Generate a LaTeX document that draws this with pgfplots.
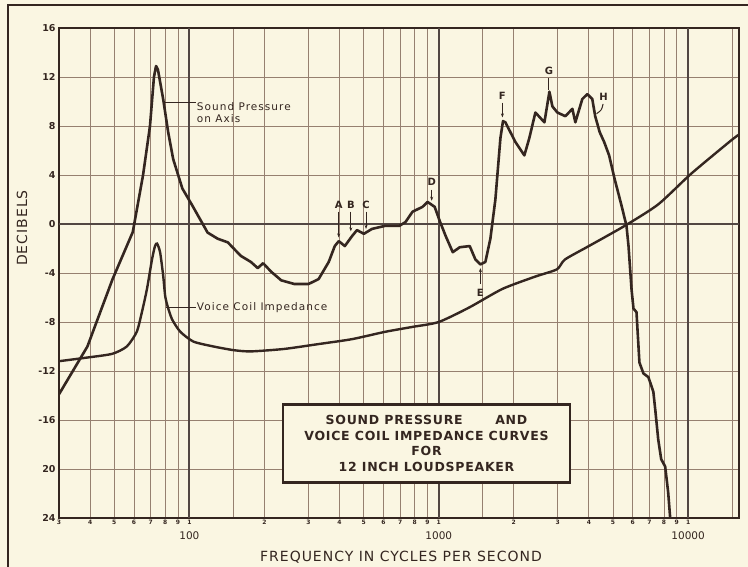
\documentclass[border=0pt]{standalone}
\usepackage{fontspec}
\setmainfont{DejaVu Sans}
\newfontfamily\letterfont[LetterSpace=10]{DejaVu Sans}
\newfontfamily\titlefont[LetterSpace=6]{DejaVu Sans}
\newfontfamily\labfont[LetterSpace=7]{DejaVu Sans}
\usepackage{pgfplots}
\pgfplotsset{compat=1.18}
\usetikzlibrary{arrows.meta}
\definecolor{bg}{RGB}{250,246,226}
\definecolor{ink}{RGB}{52,38,32}
\definecolor{gridc}{RGB}{150,128,112}

\pgfplotstableread{
f db
30 -13.9
39 -10.0
49.2 -4.5
59.3 -0.65
65.2 4.0
69.5 8.0
72.1 12.0
73.5 12.9
74.8 12.6
78.5 10.2
82.2 7.5
86.1 5.3
93.7 2.9
102.8 1.5
118.3 -0.7
129.8 -1.2
142.6 -1.5
160.7 -2.6
176.5 -3.1
188 -3.6
197.6 -3.2
212.9 -3.9
233.6 -4.6
263.6 -4.9
300.4 -4.9
329.7 -4.5
362.1 -3.1
382.9 -1.8
397.3 -1.4
420.1 -1.8
448.6 -1.0
469.9 -0.5
501 -0.8
540 -0.4
610 -0.15
695 -0.15
735 0.15
785 1.0
861 1.4
902 1.8
963 1.4
1009 0.25
1067 -1.0
1138 -2.3
1214 -1.9
1331 -1.8
1403 -2.9
1469 -3.3
1538 -3.1
1611 -1.2
1687 2.0
1767 7.0
1810 8.4
1850 8.3
2029 6.7
2204 5.6
2307 7.0
2441 9.1
2653 8.3
2778 10.8
2856 9.6
2990 9.1
3219 8.8
3435 9.4
3530 8.3
3765 10.2
3942 10.6
4128 10.2
4240 8.8
4420 7.5
4605 6.7
4822 5.6
5070 3.7
5408 1.5
5662 -0.16
5768 -1.8
5929 -5.3
6039 -6.9
6209 -7.2
6379 -11.3
6620 -12.2
6930 -12.5
7256 -13.7
7396 -15.3
7590 -17.6
7800 -19.2
8091 -19.8
8318 -21.9
8474 -24
}\sptable

\pgfplotstableread{
f db
30 -11.2
39 -10.9
49 -10.6
56.1 -10.0
61.5 -8.8
64.5 -7.2
67.6 -5.3
70.8 -2.9
72.8 -1.8
74.2 -1.6
76.3 -2.3
78.5 -4.2
80 -5.9
82 -6.8
85.3 -7.8
92 -8.8
103.8 -9.6
125 -10.0
150.6 -10.3
176.5 -10.4
240 -10.2
330 -9.8
449 -9.4
610 -8.8
785 -8.4
1000 -8.0
1329 -6.8
1800 -5.3
2432 -4.3
2978 -3.7
3206 -2.9
4000 -1.8
5560 -0.16
7586 1.6
10280 4.1
14830 6.8
16000 7.3
}\vctable

\begin{document}
\begin{tikzpicture}[x=1pt,y=1pt]
\fill[bg] (0,0) rectangle (748,567);
\path[use as bounding box] (0,0) rectangle (748,567);
\draw[ink, line width=2.5pt] (8,0) -- (8,562) -- (748,562);
\node[rotate=90, font=\fontsize{14}{14}\selectfont\labfont, text=ink] at (22,339) {DECIBELS};
\node[font=\fontsize{14}{14}\selectfont\labfont, text=ink] at (401,10) {FREQUENCY IN CYCLES PER SECOND};
\begin{axis}[
  at={(59pt,49pt)}, anchor=south west,
  scale only axis, width=680pt, height=490pt,
  xmode=log, xmin=30, xmax=16000, ymin=-24, ymax=16,
  xtick={30,40,50,60,70,80,90,100,200,300,400,500,600,700,800,900,1000,2000,3000,4000,5000,6000,7000,8000,9000,10000},
  xticklabels={3,4,5,6,7,8,9,1,2,3,4,5,6,7,8,9,1,2,3,4,5,6,7,8,9,1},
  minor xtick={150,1500,15000},
  ytick={-24,-20,...,16},
  yticklabels={24,20,-16,-12,-8,-4,0,4,8,12,16},
  /pgf/number format/assume math mode=true,
  grid=both,
  major grid style={gridc, line width=0.9pt},
  minor grid style={gridc, line width=0.9pt},
  major tick length=0pt, minor tick length=0pt,
  axis line style={ink, line width=2.8pt},
  axis background/.style={fill=bg},
  xticklabel style={font=\fontsize{6}{6}\selectfont\bfseries, text=ink, yshift=1pt},
  yticklabel style={font=\fontsize{9.5}{9.5}\selectfont\bfseries, text=ink},
  extra x ticks={100,1000,10000},
  extra x tick labels={100,1000,10000},
  extra x tick style={major grid style={ink!85, line width=1.8pt},
     xticklabel style={font=\fontsize{10.5}{10.5}\selectfont, text=ink, yshift=-11pt}},
  extra y ticks={0},
  extra y tick labels={},
  extra y tick style={major grid style={ink!85, line width=1.8pt}},
  clip mode=individual,
]
\addplot[ink, line width=2.6pt, line join=round] table[x=f,y=db] {\sptable};
\addplot[ink, line width=2.4pt, smooth, tension=0.4] table[x=f,y=db] {\vctable};

% annotations
\draw[ink, line width=1.2pt] (axis cs:79,9.9) -- (axis cs:106,9.9);
\node[anchor=west, align=left, inner sep=1pt, font=\fontsize{10.5}{12.5}\selectfont\letterfont, text=ink] at (axis cs:106,9.1) {Sound Pressure\\on Axis};
\draw[ink, line width=1.2pt] (axis cs:80.5,-6.8) -- (axis cs:106,-6.8);
\node[anchor=west, inner sep=1pt, font=\fontsize{10.5}{12.5}\selectfont\letterfont, text=ink] at (axis cs:106,-6.8) {Voice Coil Impedance};

\tikzset{lab/.style={font=\fontsize{10}{10}\selectfont\bfseries, text=ink, inner sep=1pt},
         arr/.style={ink, line width=1pt, -{Stealth[length=4pt,width=3pt]}}}
\node[lab] at (axis cs:397,1.6) {A};
\draw[arr] (axis cs:397,1.0) -- (axis cs:397,-1.1);
\node[lab] at (axis cs:444,1.6) {B};
\draw[arr] (axis cs:444,1.0) -- (axis cs:444,-0.6);
\node[lab] at (axis cs:511,1.6) {C};
\draw[arr] (axis cs:511,1.0) -- (axis cs:511,-0.4);
\node[lab] at (axis cs:937,3.4) {D};
\draw[arr] (axis cs:937,2.8) -- (axis cs:937,1.9);
\node[lab] at (axis cs:1469,-5.6) {E};
\draw[arr] (axis cs:1469,-4.9) -- (axis cs:1469,-3.6);
\node[lab] at (axis cs:1800,10.5) {F};
\draw[arr] (axis cs:1800,9.9) -- (axis cs:1800,8.7);
\node[lab] at (axis cs:2767,12.5) {G};
\draw[ink, line width=1pt] (axis cs:2767,11.9) -- (axis cs:2767,10.9);
\node[lab] at (axis cs:4580,10.4) {H};
\draw[ink, line width=1pt] (axis cs:4560,9.8) .. controls (axis cs:4500,9.3) .. (axis cs:4295,9.0);

\node[draw=ink, fill=bg, line width=2.6pt, minimum width=287pt, minimum height=78pt, inner sep=0pt, align=center,
      font=\fontsize{12.5}{15.5}\selectfont\titlefont\bfseries, text=ink] at (axis cs:893,-17.9)
  {SOUND PRESSURE\hspace{2.6em}AND\\VOICE COIL IMPEDANCE CURVES\\FOR\\12 INCH LOUDSPEAKER};
\end{axis}
\end{tikzpicture}
\end{document}
